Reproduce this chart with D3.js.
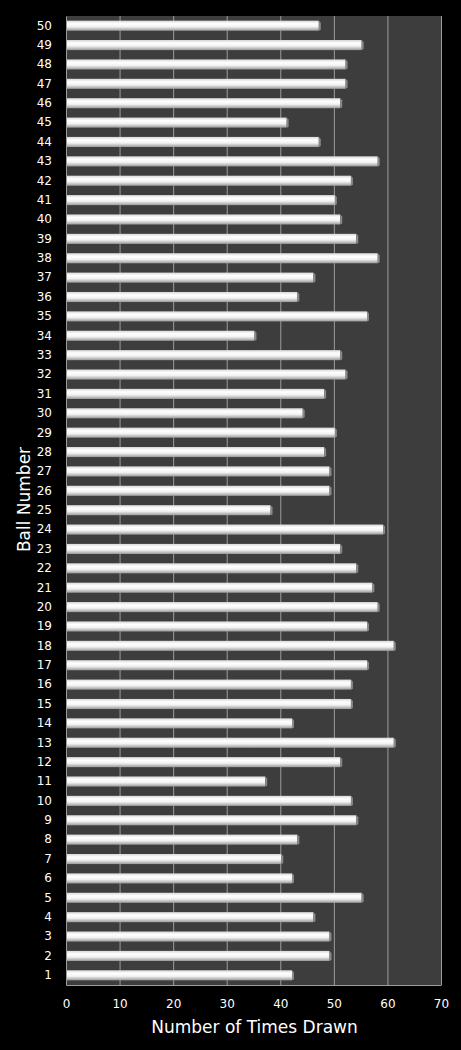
<!DOCTYPE html>
<html>
<head>
<meta charset="utf-8">
<script src="https://cdn.jsdelivr.net/npm/d3@7"></script>
<style>
  body { margin: 0; background: #000; }
  text { font-family: "DejaVu Sans", Verdana, sans-serif; fill: #fff; }
</style>
</head>
<body>
<div id="chart"></div>
<script>
// ball numbers 1..50 and how often each was drawn
var balls = d3.range(1, 51);
var drawn = [42, 49, 49, 46, 55, 42, 40, 43, 54, 53,
             37, 51, 61, 42, 53, 53, 56, 61, 56, 58,
             57, 54, 51, 59, 38, 49, 49, 48, 50, 44,
             48, 52, 51, 35, 56, 43, 46, 58, 54, 51,
             50, 53, 58, 47, 41, 51, 52, 52, 55, 47];
var xTicks = [0, 10, 20, 30, 40, 50, 60, 70];

var svgWidth = 461;
var svgHeight = 1050;
var margin = { top: 16, right: 20, bottom: 65, left: 66 };
var width = svgWidth - margin.left - margin.right;
var height = svgHeight - margin.top - margin.bottom;

var svg = d3.select("#chart")
  .append("svg")
  .attr("width", svgWidth)
  .attr("height", svgHeight);

svg.append("rect")
  .attr("width", svgWidth)
  .attr("height", svgHeight)
  .attr("fill", "#000");

// bar gradient, rounded cylinder look
var defs = svg.append("defs");
var grad = defs.append("linearGradient")
  .attr("id", "barGrad")
  .attr("x1", 0).attr("y1", 0).attr("x2", 0).attr("y2", 1);
grad.append("stop").attr("offset", "0%").attr("stop-color", "#d8d8d8");
grad.append("stop").attr("offset", "30%").attr("stop-color", "#ffffff");
grad.append("stop").attr("offset", "60%").attr("stop-color", "#f2f2f2");
grad.append("stop").attr("offset", "100%").attr("stop-color", "#9a9a9a");

var chartGroup = svg.append("g")
  .attr("transform", `translate(${margin.left}, ${margin.top})`);

var x = d3.scaleLinear()
  .domain([0, 70])
  .range([0, width]);

var y = d3.scaleBand()
  .domain(balls)
  .range([height, 0])
  .paddingInner(0.48)
  .paddingOuter(0.24);

// plot background
chartGroup.append("rect")
  .attr("width", width)
  .attr("height", height)
  .attr("fill", "#3d3d3d");

// gridlines
chartGroup.append("g")
  .selectAll("line")
  .data(xTicks.slice(1))
  .enter()
  .append("line")
  .attr("x1", d => x(d) + 0.5)
  .attr("x2", d => x(d) + 0.5)
  .attr("y1", 0)
  .attr("y2", height)
  .attr("stroke", "#9c9c9c")
  .attr("stroke-width", 1);

// bars
var data = balls.map((b, i) => ({ ball: b, count: drawn[i] }));

chartGroup.append("g")
  .selectAll("rect")
  .data(data)
  .enter()
  .append("rect")
  .attr("x", 1)
  .attr("y", d => y(d.ball))
  .attr("width", d => x(d.count))
  .attr("height", y.bandwidth())
  .attr("fill", "url(#barGrad)");

// small bevel at the end of each bar
chartGroup.append("g")
  .selectAll("path")
  .data(data)
  .enter()
  .append("path")
  .attr("d", d => {
    var x0 = x(d.count) + 1, y0 = y(d.ball), h = y.bandwidth();
    return `M${x0},${y0} L${x0 + 2},${y0 + 2} L${x0 + 2},${y0 + h - 1} L${x0},${y0 + h} Z`;
  })
  .attr("fill", "#8a8a8a");

// axes
var bottomAxis = d3.axisBottom(x).tickValues(xTicks).tickSize(0).tickPadding(14);
var leftAxis = d3.axisLeft(y).tickSize(0).tickPadding(14);

var xAxis = chartGroup.append("g")
  .attr("transform", `translate(0, ${height})`)
  .call(bottomAxis);
xAxis.select(".domain").attr("stroke", "#9c9c9c");
xAxis.selectAll("text").attr("font-size", 12).attr("fill", "#fff");

var yAxis = chartGroup.append("g")
  .call(leftAxis);
yAxis.select(".domain").attr("stroke", "#9c9c9c");
yAxis.selectAll("text").attr("font-size", 12).attr("fill", "#fff");

// axis titles
chartGroup.append("text")
  .attr("x", width / 2 + 1)
  .attr("y", height + 48)
  .attr("text-anchor", "middle")
  .attr("font-size", 17)
  .text("Number of Times Drawn");

chartGroup.append("text")
  .attr("transform", "rotate(-90)")
  .attr("x", -height / 2 + 1)
  .attr("y", -36)
  .attr("text-anchor", "middle")
  .attr("font-size", 17)
  .text("Ball Number");
</script>
</body>
</html>
